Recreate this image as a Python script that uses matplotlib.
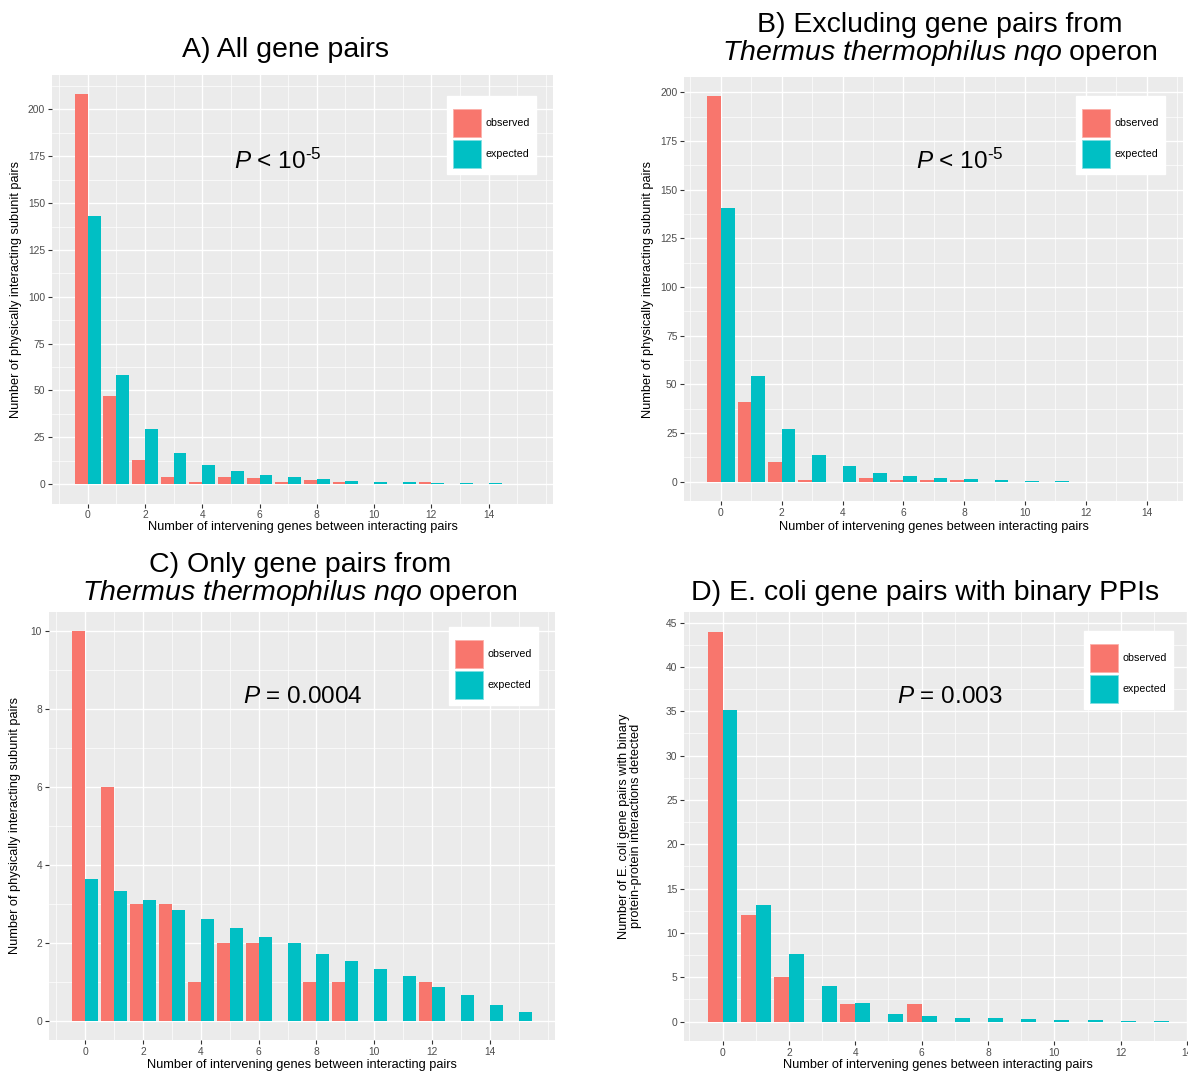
import numpy as np
import matplotlib
matplotlib.use("Agg")
import matplotlib.pyplot as plt
from matplotlib.patches import Patch

plt.rcParams["font.family"] = ["Liberation Sans", "DejaVu Sans"]
plt.rcParams["mathtext.fontset"] = "custom"
plt.rcParams["mathtext.rm"] = "Liberation Sans"
plt.rcParams["mathtext.it"] = "Liberation Sans:italic"

# A) all gene pairs
gaps_a = np.arange(16)
observed_a = [208, 47, 13, 4, 1, 4, 3, 1, 2, 1, 0, 0, 1, 0, 0, 0]
expected_a = [143, 58, 29.4, 16.4, 10.4, 6.8, 5.0, 3.5, 2.7, 1.8, 1.3, 1.1, 0.8, 0.6, 0.35, 0.2]

# B) excluding the nqo operon
gaps_b = np.arange(15)
observed_b = [198, 41, 10, 1, 0, 2, 1, 1, 1, 0, 0, 0, 0, 0, 0]
expected_b = [140.5, 54.4, 26.9, 13.6, 8.0, 4.6, 3.1, 2.0, 1.4, 0.8, 0.35, 0.2, 0.1, 0.05, 0.03]

# C) nqo operon only
gaps_c = np.arange(16)
observed_c = [10, 6, 3, 3, 1, 2, 2, 0, 1, 1, 0, 0, 1, 0, 0, 0]
expected_c = [3.64, 3.32, 3.10, 2.85, 2.61, 2.39, 2.15, 2.0, 1.72, 1.53, 1.33, 1.14, 0.87, 0.66, 0.39, 0.21]

# D) E. coli binary PPIs
gaps_d = np.arange(14)
observed_d = [44, 12, 5, 0, 2, 0, 2, 0, 0, 0, 0, 0, 0, 0]
expected_d = [35.15, 13.1, 7.6, 4.0, 2.14, 0.9, 0.6, 0.45, 0.34, 0.26, 0.19, 0.15, 0.11, 0.08]

series_labels = ["observed", "expected"]
x_label = "Number of intervening genes between interacting pairs"

RED = "#F8766D"
TEAL = "#00BFC4"
W, H = 1188, 1074


def px(x, y):
    return x / W, 1 - y / H


def minor_breaks(majors, lo, hi):
    # ggplot-style: midpoints between majors, plus one extra major on each side if inside limits
    step = majors[1] - majors[0]
    b = list(majors)
    if lo < b[0]:
        b = [b[0] - step] + b
    if hi > b[-1]:
        b = b + [b[-1] + step]
    mids = [(a + c) / 2 for a, c in zip(b[:-1], b[1:])] + [b[0], b[-1]]
    return [m for m in mids if lo <= m <= hi and m not in majors]


def draw_panel(rect, gaps, obs, exp, ymajors, ptext, ppos, legpos):
    ax = fig.add_axes(rect)
    ax.set_facecolor("#EBEBEB")
    ax.bar(gaps - 0.225, obs, width=0.45, color=RED, linewidth=0, zorder=3)
    ax.bar(gaps + 0.225, exp, width=0.45, color=TEAL, linewidth=0, zorder=3)

    xlo, xhi = -0.45, gaps[-1] + 0.45
    xpad = 0.05 * (xhi - xlo)
    xlo, xhi = xlo - xpad, xhi + xpad
    ymax = max(max(obs), max(exp))
    ylo, yhi = -0.05 * ymax, ymax * 1.05
    ax.set_xlim(xlo, xhi)
    ax.set_ylim(ylo, yhi)

    xmajors = [v for v in range(0, 15, 2) if xlo <= v <= xhi]
    ax.set_xticks(xmajors)
    ax.set_xticks(minor_breaks(xmajors, xlo, xhi), minor=True)
    ax.set_yticks(ymajors)
    ax.set_yticks(minor_breaks(list(ymajors), ylo, yhi), minor=True)
    ax.set_yticklabels([f"{v:g}" for v in ymajors])

    ax.grid(which="major", color="white", linewidth=1.0, zorder=1)
    ax.grid(which="minor", color="white", linewidth=0.5, zorder=1)
    ax.set_axisbelow(True)
    for s in ax.spines.values():
        s.set_visible(False)
    ax.tick_params(which="major", length=3, width=0.8, color="#333333",
                   labelcolor="#4D4D4D", labelsize=7.4, pad=2)
    ax.tick_params(which="minor", length=0)

    ax.text(ppos[0], ppos[1], ptext, transform=ax.transAxes, ha="center",
            va="baseline", fontsize=17.5, color="black", zorder=5)

    handles = [Patch(facecolor=RED, edgecolor="#FBB0AA", linewidth=0.6),
               Patch(facecolor=TEAL, edgecolor="#7FDFE1", linewidth=0.6)]
    ax.legend(handles, series_labels, loc="upper right", bbox_to_anchor=legpos,
              bbox_transform=ax.transAxes, borderaxespad=0, frameon=True,
              fancybox=False, facecolor="white", edgecolor="white", framealpha=1,
              fontsize=7.7, handlelength=2.6, handleheight=3.66, labelspacing=0.25,
              handletextpad=0.4, borderpad=0.6, title=" ", title_fontsize=3)
    return ax


fig = plt.figure(figsize=(W / 100, H / 100), dpi=100)

p_small = r"$\mathit{P}$ < 10$^{\text{-5}}$"
draw_panel([52 / W, 1 - 503.5 / H, 501 / W, 428.5 / H], gaps_a, observed_a, expected_a,
           np.arange(0, 201, 25), p_small, (0.451, 0.781), (0.966, 0.951))
draw_panel([684.5 / W, 1 - 501 / H, 498.5 / W, 424 / H], gaps_b, observed_b, expected_b,
           np.arange(0, 201, 25), p_small, (0.553, 0.783), (0.964, 0.955))
draw_panel([49 / W, 1 - 1040 / H, 506 / W, 428 / H], gaps_c, observed_c, expected_c,
           np.arange(0, 11, 2), r"$\mathit{P}$ = 0.0004", (0.501, 0.787), (0.966, 0.965))
draw_panel([684.5 / W, 1 - 1041 / H, 507.5 / W, 429 / H], gaps_d, observed_d, expected_d,
           np.arange(0, 46, 5), r"$\mathit{P}$ = 0.003", (0.522, 0.788), (0.9626, 0.956))

# titles
title_kw = dict(ha="center", va="baseline", fontsize=20.5, color="black")
fig.text(*px(286, 57), "A) All gene pairs", **title_kw)
fig.text(*px(940, 31.7), "B) Excluding gene pairs from", **title_kw)
fig.text(*px(940, 60), r"$\mathit{Thermus\ thermophilus\ nqo}$ operon", **title_kw)
fig.text(*px(300, 571.7), "C) Only gene pairs from", **title_kw)
fig.text(*px(300, 600), r"$\mathit{Thermus\ thermophilus\ nqo}$ operon", **title_kw)
fig.text(*px(925, 600), "D) E. coli gene pairs with binary PPIs", **title_kw)

# axis labels
lab_kw = dict(ha="center", va="center", fontsize=9.2, color="black")
fig.text(*px(302.5, 527), x_label, **lab_kw)
fig.text(*px(934, 527), x_label, **lab_kw)
fig.text(*px(302, 1065), x_label, **lab_kw)
fig.text(*px(938, 1065), x_label, **lab_kw)
fig.text(*px(16, 289), "Number of physically interacting subunit pairs", rotation=90, **lab_kw)
fig.text(*px(648, 289), "Number of physically interacting subunit pairs", rotation=90, **lab_kw)
fig.text(*px(15, 826), "Number of physically interacting subunit pairs", rotation=90, **lab_kw)
fig.text(*px(630, 826), "Number of E. coli gene pairs with binary\nprotein-protein interactions detected",
         rotation=90, linespacing=1.05, **lab_kw)

fig.savefig("out.png", dpi=100)
